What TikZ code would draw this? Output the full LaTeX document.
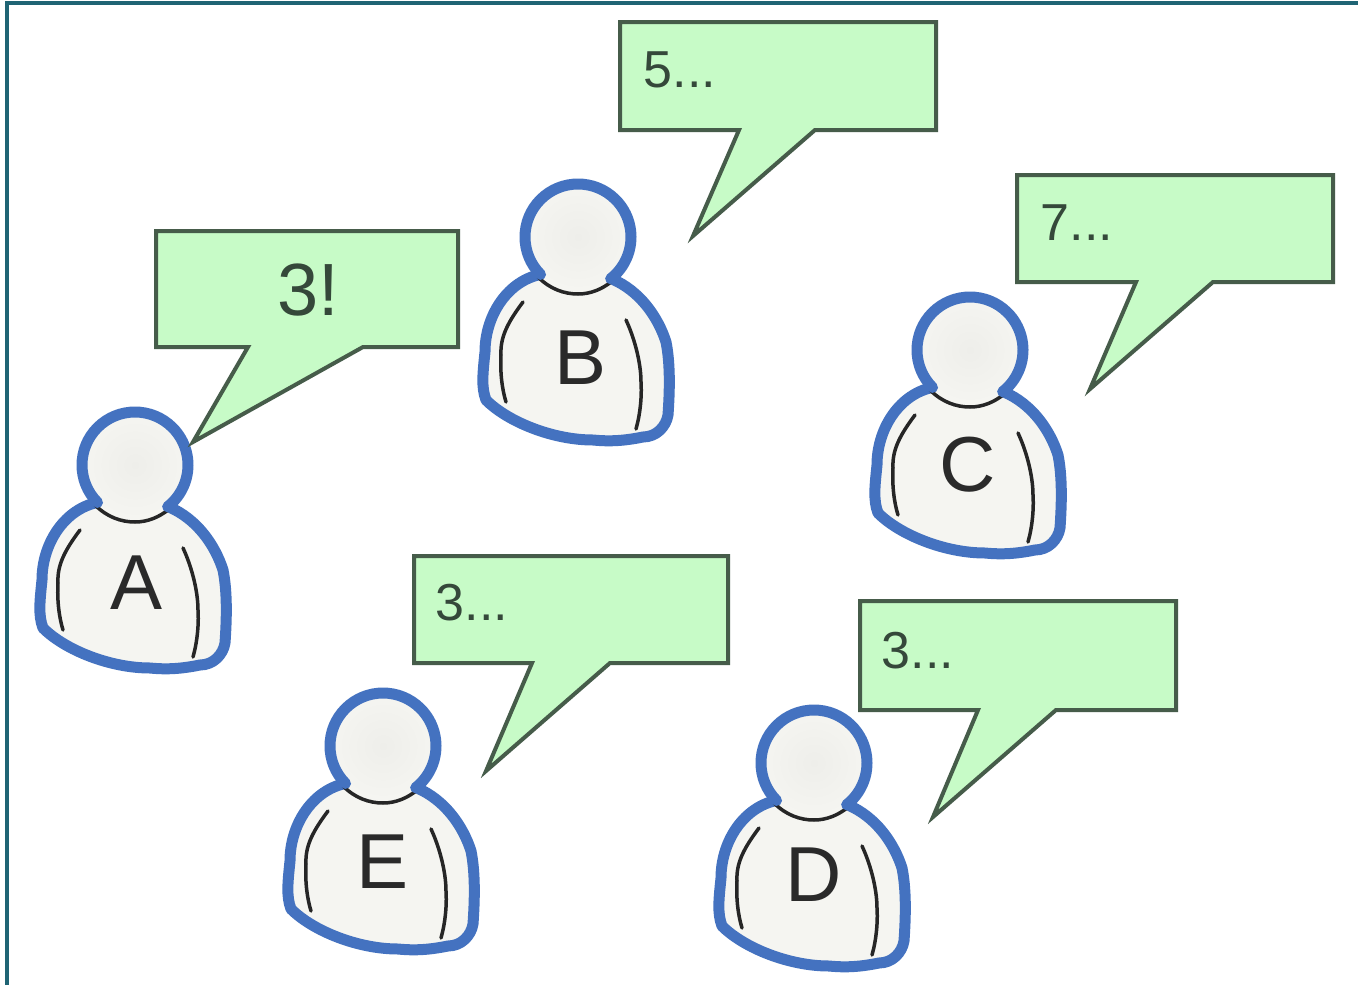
\documentclass[tikz,border=0pt]{standalone}
\usepackage{fontspec}
\setmainfont{Liberation Sans}
\definecolor{frameteal}{HTML}{1F6474}
\definecolor{personblue}{HTML}{4472C0}
\definecolor{personfill}{HTML}{F5F5F1}
\definecolor{personcore}{HTML}{EEEEEA}
\definecolor{bubblefill}{HTML}{C7FBC7}
\definecolor{bubbleline}{HTML}{465C4A}
\definecolor{bubbletext}{HTML}{35483A}
\definecolor{lettercol}{HTML}{2A2A2A}
\tikzset{
  bubble/.style={draw=bubbleline,fill=bubblefill,line width=4pt,line join=miter},
  bubbletxt/.style={text=bubbletext,font=\fontsize{52}{52}\selectfont,inner sep=0pt,anchor=center},
  biglabel/.style={text=bubbletext,font=\fontsize{74}{74}\selectfont,inner sep=0pt,anchor=center},
  personletter/.style={text=lettercol,font=\fontsize{78}{78}\selectfont,inner sep=0pt,anchor=center},
  bluestroke/.style={draw=personblue,line width=11pt,line join=round,line cap=round},
  inkstroke/.style={draw=black!85,line width=3.5pt,line cap=round},
  person/.pic={
    \path[bluestroke,fill=personfill]
      (-40,38) .. controls (-72,46) and (-93,80) .. (-93,115)
      .. controls (-95,135) and (-97,150) .. (-92,163)
      .. controls (-70,185) and (-25,203) .. (15,203)
      .. controls (35,205) and (50,203) .. (65,200)
      .. controls (78,200) and (88,190) .. (90,178)
      .. controls (92,150) and (92,125) .. (88,105)
      .. controls (80,80) and (62,54) .. (34,42);
    \path[inkstroke] (-55,65) .. controls (-70,85) and (-78,100) .. (-77,118)
      .. controls (-78,135) and (-76,152) .. (-72,165);
    \path[inkstroke] (48,83) .. controls (56,100) and (63,125) .. (63,145)
      .. controls (64,160) and (62,178) .. (58,192);
    \path[inner color=personcore,outer color=personfill] (0,0) circle[radius=53];
    \path[inkstroke] (-40,40) .. controls (-28,52) and (-14,57) .. (0,57)
      .. controls (13,57) and (24,52) .. (33,45);
    \draw[bluestroke] (135:53) arc[start angle=135,end angle=412,radius=53];
  }
}
\begin{document}
\begin{tikzpicture}[x=1pt,y=-1pt]
\useasboundingbox (0,0) rectangle (1358,985);
\fill[white] (0,0) rectangle (1358,985);
\draw[frameteal,line width=4.5pt] (7,985) -- (7,3) -- (1358,3);

\pic at (135,465) {person};
\pic at (578,237) {person};
\pic at (970,350) {person};
\pic at (814,763) {person};
\pic at (383,746) {person};

\node[personletter] (letterA) at (137,583) {A};
\node[personletter] (letterB) at (581,358) {B};
\node[personletter] (letterC) at (968,465) {C};
\node[personletter] (letterD) at (814,875) {D};
\node[personletter] (letterE) at (383,862) {E};

\path[bubble] (156,231) -- (458,231) -- (458,347) -- (363,347) -- (193,442) -- (248,347) -- (156,347) -- cycle;
\path[bubble] (620,22) -- (936,22) -- (936,130) -- (815,130) -- (693,236) -- (739,130) -- (620,130) -- cycle;
\path[bubble] (1017,175) -- (1333,175) -- (1333,282) -- (1213,282) -- (1090,389) -- (1136,282) -- (1017,282) -- cycle;
\path[bubble] (414,556) -- (728,556) -- (728,663) -- (610,663) -- (486,771) -- (532,663) -- (414,663) -- cycle;
\path[bubble] (860,601) -- (1176,601) -- (1176,710) -- (1056,710) -- (933,817) -- (978,710) -- (860,710) -- cycle;

\node[biglabel] (sayA) at (308,290) {3!};
\node[bubbletxt] (sayB) at (680,70) {5...};
\node[bubbletxt] (sayC) at (1077,223) {7...};
\node[bubbletxt] (sayE) at (472,603) {3...};
\node[bubbletxt] (sayD) at (918,651) {3...};
\end{tikzpicture}
\end{document}
